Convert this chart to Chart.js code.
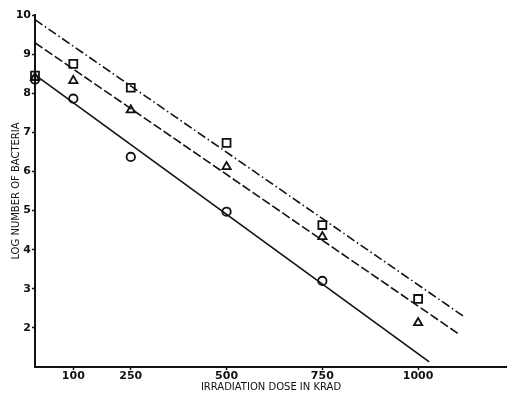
<!DOCTYPE html>
<html lang="en">
<head>
    <meta charset="UTF-8">
    <title>Log number of bacteria vs irradiation dose</title>
    <script src="https://cdn.jsdelivr.net/npm/chart.js@4.4.1/dist/chart.umd.min.js"></script>
    <style>
        body { margin: 0; background: #ffffff; }
        #wrap { width: 507px; height: 399px; position: relative; }
    </style>
</head>
<body>
    <div id="wrap"><canvas id="doseChart"></canvas></div>

<script>
    // dose (krad) and log count
    const squareDose = [0, 100, 250, 500, 750, 1000];
    const squareLog = [8.45, 8.75, 8.14, 6.73, 4.63, 2.74];
    const triangleDose = [0, 100, 250, 500, 750, 1000];
    const triangleLog = [8.40, 8.32, 7.57, 6.12, 4.33, 2.13];
    const circleDose = [0, 100, 250, 500, 750];
    const circleLog = [8.35, 7.86, 6.37, 4.97, 3.20];

    // fitted lines: start / end points
    const dashDotDose = [0, 1121];
    const dashDotLog = [9.88, 2.28];
    const dashedDose = [0, 1105];
    const dashedLog = [9.29, 1.85];
    const solidDose = [0, 1029];
    const solidLog = [8.47, 1.13];

    const xTicks = [100, 250, 500, 750, 1000];
    const yTicks = [2, 3, 4, 5, 6, 7, 8, 9, 10];

    const ink = '#111111';
    const pts = (xs, ys) => xs.map((x, i) => ({ x: x, y: ys[i] }));

    function lineSet(xs, ys, dash) {
        return {
            data: pts(xs, ys), showLine: true, pointRadius: 0,
            borderColor: ink, borderWidth: 1.6, borderDash: dash, clip: false
        };
    }
    function markerSet(xs, ys, style, r) {
        return {
            data: pts(xs, ys), showLine: false, pointStyle: style, pointRadius: r,
            borderColor: ink, backgroundColor: 'rgba(0,0,0,0)', pointBorderWidth: 1.8, clip: false
        };
    }

    new Chart(document.getElementById('doseChart'), {
        type: 'scatter',
        data: {
            datasets: [
                lineSet(dashDotDose, dashDotLog, [9, 3, 1.5, 3]),
                lineSet(dashedDose, dashedLog, [9, 3]),
                lineSet(solidDose, solidLog, []),
                markerSet(squareDose, squareLog, 'rect', 5.6),
                markerSet(triangleDose, triangleLog, 'triangle', 4.8),
                markerSet(circleDose, circleLog, 'circle', 4.2)
            ]
        },
        options: {
            responsive: true, maintainAspectRatio: false, animation: false,
            layout: { autoPadding: false, padding: { top: 15, right: 0, left: 0, bottom: 0 } },
            plugins: { legend: { display: false }, tooltip: { enabled: false } },
            scales: {
                x: {
                    type: 'linear', min: 0, max: 1232,
                    afterBuildTicks: s => { s.ticks = xTicks.map(v => ({ value: v })); },
                    afterFit: s => { s.height = 32; },
                    grid: { drawOnChartArea: false, tickLength: 3, color: ink, tickWidth: 1.5 },
                    border: { color: ink, width: 2 },
                    ticks: {
                        color: ink, padding: 0, maxRotation: 0, callback: v => String(v),
                        font: { family: 'DejaVu Sans', size: 11, weight: 'bold' }
                    },
                    title: {
                        display: true, text: 'IRRADIATION DOSE IN KRAD', color: ink,
                        font: { family: 'DejaVu Sans', size: 10 }, padding: { top: 0, bottom: 6 }
                    }
                },
                y: {
                    type: 'linear', min: 1, max: 10,
                    afterBuildTicks: s => { s.ticks = yTicks.map(v => ({ value: v })); },
                    afterFit: s => { s.width = 35; },
                    grid: { drawOnChartArea: false, tickLength: 3, color: ink, tickWidth: 1.5 },
                    border: { color: ink, width: 2 },
                    ticks: {
                        color: ink, padding: 1, callback: v => String(v),
                        font: { family: 'DejaVu Sans', size: 11, weight: 'bold' }
                    },
                    title: {
                        display: true, text: 'LOG NUMBER OF BACTERIA', color: ink,
                        font: { family: 'DejaVu Sans', size: 10 }, padding: { top: 10, bottom: 0 }
                    }
                }
            }
        }
    });
</script>
</body>
</html>
